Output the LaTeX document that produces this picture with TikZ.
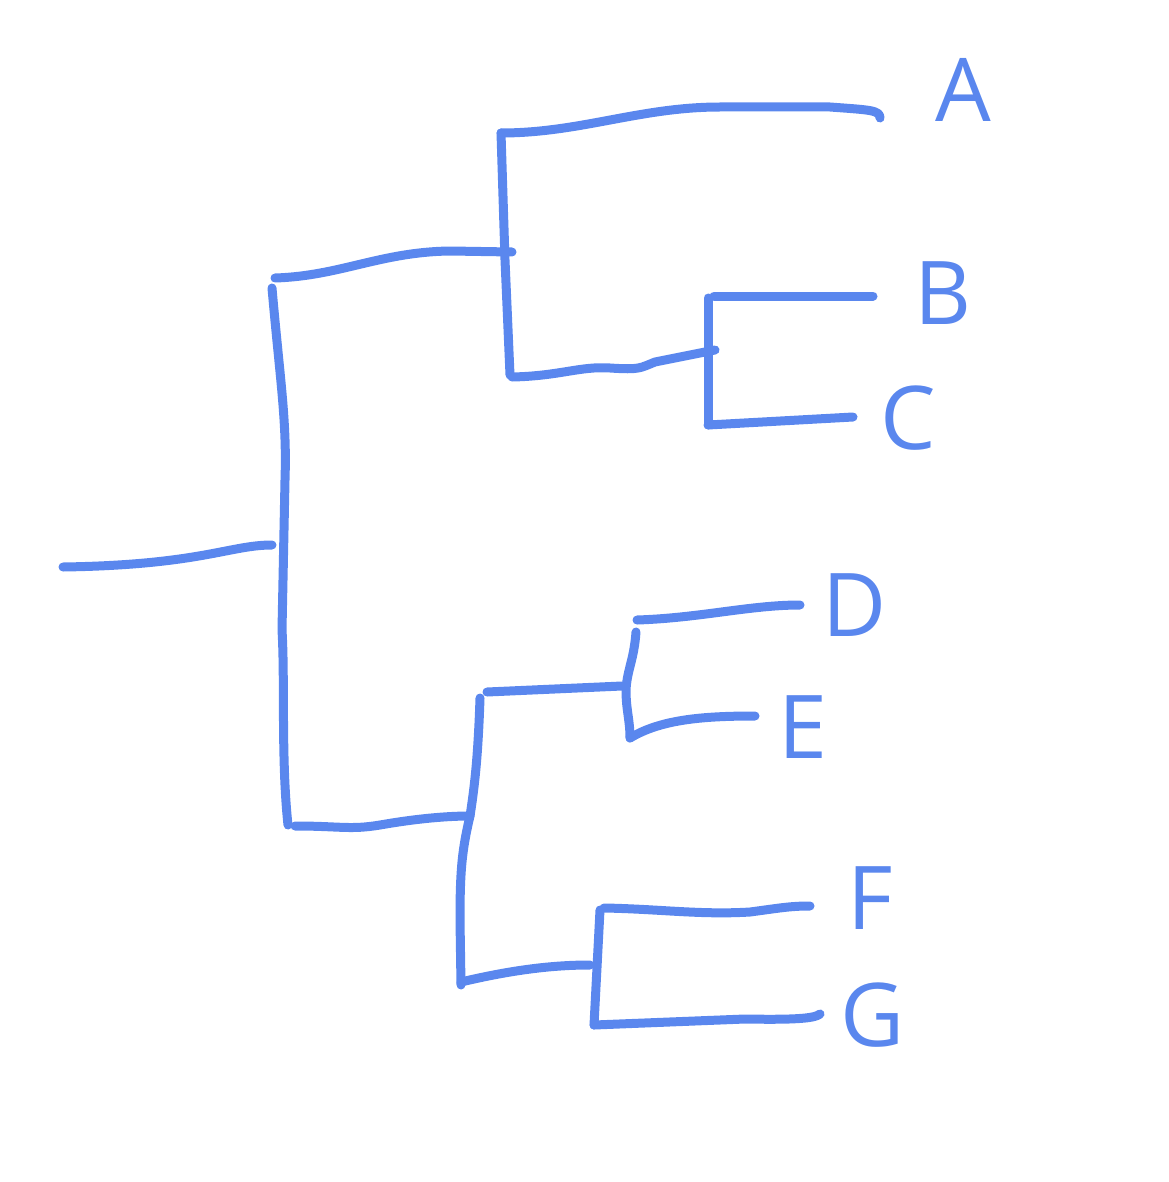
\documentclass[tikz,border=0pt]{standalone}
\usepackage{fontspec}
\setmainfont{Open Sans}
\definecolor{bl}{HTML}{5A87EE}
\begin{document}
\begin{tikzpicture}[x=1pt,y=-1pt,
  br/.style={draw=bl,line width=9pt,line cap=round,line join=round},
  lab/.style={text=bl,font=\fontsize{88}{88}\selectfont,inner sep=0pt}]
\useasboundingbox (0,0) rectangle (1168,1182);
\draw[br] (63,567) .. controls (200,565) and (230,545) .. (272,545);
\draw[br] (272,288) .. controls (280,380) and (287,420) .. (285,480) -- (282,630) .. controls (285,680) and (281,760) .. (288,825);
\draw[br] (275,278) .. controls (340,276) and (380,252) .. (450,251) -- (512,252);
\draw[br] (501,133) -- (505,260) -- (510,375);
\draw[br] (501,133) .. controls (580,133) and (640,107) .. (720,107) -- (830,107) .. controls (870,110) and (880,110) .. (880,118);
\draw[br] (512,377) .. controls (560,376) and (580,366) .. (610,368) .. controls (640,370) and (640,368) .. (655,362) -- (715,350);
\draw[br] (708,298) -- (708,425);
\draw[br] (714,296) -- (873,296);
\draw[br] (708,425) -- (853,417);
\draw[br] (295,826) .. controls (340,826) and (350,830) .. (380,825) .. controls (420,818) and (450,816) .. (470,816);
\draw[br] (480,698) .. controls (478,760) and (474,790) .. (470,816) .. controls (462,850) and (460,870) .. (460,920) -- (461,985);
\draw[br] (487,692) -- (622,686);
\draw[br] (636,632) .. controls (634,660) and (627,670) .. (626,690) .. controls (626,710) and (630,720) .. (630,738);
\draw[br] (637,620) .. controls (700,618) and (750,605) .. (800,605);
\draw[br] (630,738) .. controls (660,720) and (700,716) .. (755,716);
\draw[br] (461,982) .. controls (520,968) and (560,965) .. (590,965);
\draw[br] (600,910) -- (594,1025);
\draw[br] (604,908) .. controls (660,909) and (700,915) .. (750,912) .. controls (780,908) and (790,906) .. (810,906);
\draw[br] (594,1025) -- (745,1019) .. controls (800,1020) and (815,1018) .. (820,1014);
\node[lab] (A) at (963,90) {A};
\node[lab] (B) at (943,293) {B};
\node[lab] (C) at (908,418) {C};
\node[lab] (D) at (855,605) {D};
\node[lab] (E) at (803,727) {E};
\node[lab] (F) at (870,898) {F};
\node[lab] (G) at (873,1015) {G};
\end{tikzpicture}
\end{document}
